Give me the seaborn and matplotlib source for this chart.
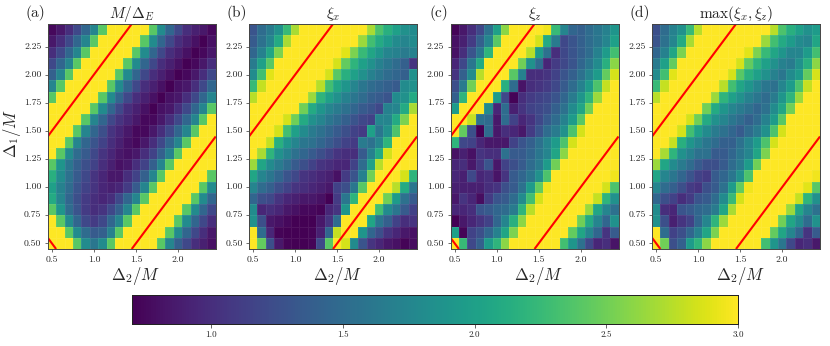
import numpy as np
import pandas as pd
import matplotlib
matplotlib.use('Agg')
import matplotlib.pyplot as plt
import seaborn as sns

# grid of the scan, rows listed from the top of the picture
delta2 = [0.5, 0.6, 0.7, 0.8, 0.9, 1.0, 1.1, 1.2, 1.3, 1.4, 1.5, 1.6, 1.7, 1.8, 1.9, 2.0, 2.1, 2.2, 2.3, 2.4]
delta1 = [2.4, 2.3, 2.2, 2.1, 2.0, 1.9, 1.8, 1.7, 1.6, 1.5, 1.4, 1.3, 1.2, 1.1, 1.0, 0.9, 0.8, 0.7, 0.6, 0.5]

x_ticks = [0.5, 1.0, 1.5, 2.0]
y_ticks = [0.50, 0.75, 1.00, 1.25, 1.50, 1.75, 2.00, 2.25]
cbar_ticks = [1.0, 1.5, 2.0, 2.5, 3.0]

titles = [r'$M/\Delta_E$', r'$\xi_x$', r'$\xi_z$', r'$\max(\xi_x,\xi_z)$']
panel_labels = ['(a)', '(b)', '(c)', '(d)']

m_gap = [
    [.75, .85, 1.0, 1.2, 1.45, 1.75, 2.4, 3, 3, 3, 3, 3, 2.4, 1.8, 1.45, 1.2, 1.0, .9, .85, .75],
    [.85, 1.0, 1.2, 1.45, 1.75, 2.4, 3, 3, 3, 3, 3, 2.4, 1.8, 1.45, 1.2, 1.0, .9, .8, .7, .8],
    [1.0, 1.2, 1.45, 1.75, 2.4, 3, 3, 3, 3, 3, 2.4, 1.8, 1.45, 1.2, 1.0, .9, .8, .7, .75, .85],
    [1.2, 1.45, 1.75, 2.4, 3, 3, 3, 3, 3, 2.4, 1.8, 1.45, 1.2, 1.0, .9, .8, .7, .75, .85, 1.0],
    [1.4, 1.75, 2.4, 3, 3, 3, 3, 3, 2.4, 1.8, 1.45, 1.2, 1.0, .9, .8, .7, .75, .85, 1.0, 1.2],
    [1.75, 2.4, 3, 3, 3, 3, 3, 2.4, 1.8, 1.45, 1.2, 1.0, .9, .8, .7, .8, .85, 1.0, 1.2, 1.45],
    [2.4, 3, 3, 3, 3, 3, 2.4, 1.8, 1.45, 1.2, 1.0, .9, .8, .7, .8, .85, 1.0, 1.2, 1.45, 1.75],
    [3, 3, 3, 3, 3, 2.4, 1.8, 1.45, 1.2, 1.0, .9, .8, .7, .8, .85, 1.0, 1.2, 1.45, 1.75, 2.4],
    [3, 3, 3, 3, 2.4, 1.75, 1.45, 1.2, 1.05, .95, .85, .75, .75, .85, 1.0, 1.2, 1.45, 1.75, 2.4, 3],
    [3, 3, 3, 2.4, 1.75, 1.45, 1.25, 1.05, .95, .85, .75, .75, .85, 1.0, 1.2, 1.45, 1.75, 2.4, 3, 3],
    [3, 3, 2.4, 1.75, 1.45, 1.3, 1.15, 1.0, .9, .8, .75, .85, 1.0, 1.2, 1.45, 1.75, 2.4, 3, 3, 3],
    [3, 2.4, 1.8, 1.5, 1.35, 1.2, 1.05, .95, .85, .8, .85, 1.0, 1.15, 1.4, 1.7, 2.4, 3, 3, 3, 3],
    [2.4, 1.9, 1.6, 1.4, 1.25, 1.15, 1.0, .9, .8, .85, 1.0, 1.15, 1.4, 1.75, 2.4, 3, 3, 3, 3, 3],
    [2.15, 1.8, 1.55, 1.35, 1.2, 1.05, .95, .85, .85, 1.0, 1.15, 1.4, 1.75, 2.4, 3, 3, 3, 3, 3, 2.4],
    [2.0, 1.7, 1.5, 1.3, 1.15, 1.05, .95, .9, .95, 1.1, 1.35, 1.75, 2.4, 3, 3, 3, 3, 3, 2.4, 1.8],
    [2.1, 1.75, 1.45, 1.25, 1.1, 1.0, .95, 1.0, 1.2, 1.45, 1.75, 2.4, 3, 3, 3, 3, 3, 2.4, 1.8, 1.45],
    [2.4, 1.9, 1.5, 1.3, 1.1, 1.0, 1.05, 1.2, 1.4, 1.75, 2.4, 3, 3, 3, 3, 3, 2.4, 1.8, 1.45, 1.2],
    [3, 2.4, 1.8, 1.45, 1.2, 1.1, 1.2, 1.45, 1.75, 2.4, 3, 3, 3, 3, 3, 2.4, 1.8, 1.45, 1.2, 1.0],
    [3, 3, 2.4, 1.8, 1.5, 1.35, 1.4, 1.7, 2.4, 3, 3, 3, 3, 3, 2.4, 1.8, 1.45, 1.2, 1.0, .85],
    [3, 3, 3, 2.4, 1.8, 1.6, 1.8, 2.4, 3, 3, 3, 3, 3, 2.4, 1.75, 1.4, 1.2, 1.0, .9, .8],
]

xi_x = [
    [1.3, 1.5, 1.65, 1.85, 2.25, 2.7, 3, 3, 3, 3, 3, 3, 3, 3, 2.7, 2.35, 2.15, 2.0, 1.85, 1.8],
    [1.35, 1.55, 1.75, 2.1, 2.7, 3, 3, 3, 3, 3, 3, 3, 3, 2.65, 2.3, 2.1, 1.95, 1.8, 1.75, 1.8],
    [1.45, 1.7, 2.05, 2.55, 3, 3, 3, 3, 3, 3, 3, 2.9, 2.55, 2.25, 2.05, 1.9, 1.75, 1.7, 1.65, 1.7],
    [1.65, 2.0, 2.4, 3, 3, 3, 3, 3, 3, 3, 2.85, 2.45, 2.2, 2.0, 1.85, 1.7, 1.6, 1.5, 1.4, 1.05],
    [1.8, 2.3, 2.9, 3, 3, 3, 3, 3, 3, 2.85, 2.4, 2.15, 2.0, 1.85, 1.7, 1.6, 1.5, 1.45, 1.4, 1.85],
    [2.25, 2.8, 3, 3, 3, 3, 3, 3, 2.75, 2.3, 2.05, 1.9, 1.75, 1.6, 1.5, 1.45, 1.4, 1.35, 1.8, 1.85],
    [2.75, 3, 3, 3, 3, 3, 3, 2.65, 2.2, 2.0, 1.85, 1.7, 1.6, 1.5, 1.4, 1.35, 1.3, 1.8, 1.85, 2.1],
    [3, 3, 3, 3, 3, 3, 2.5, 2.1, 1.9, 1.75, 1.65, 1.55, 1.45, 1.35, 1.3, 1.2, 1.7, 1.75, 2.1, 2.7],
    [3, 3, 3, 3, 2.85, 2.5, 2.1, 1.85, 1.75, 1.6, 1.5, 1.4, 1.3, 1.2, 1.15, 1.75, 1.75, 2.1, 2.55, 3],
    [3, 3, 3, 2.85, 2.3, 2.0, 1.8, 1.65, 1.55, 1.45, 1.35, 1.25, 1.15, 1.1, 2.0, 1.6, 1.85, 2.35, 3, 3],
    [3, 3, 2.8, 2.15, 1.9, 1.75, 1.6, 1.55, 1.45, 1.35, 1.25, 1.15, 1.1, 1.65, 1.55, 1.75, 2.2, 3, 3, 3],
    [3, 2.7, 2.2, 1.85, 1.7, 1.55, 1.45, 1.35, 1.25, 1.15, 1.05, 1.0, 1.0, 1.35, 1.7, 2.1, 2.85, 3, 3, 3],
    [2.65, 2.05, 1.8, 1.65, 1.5, 1.35, 1.25, 1.15, 1.05, 1.0, .95, .95, 1.15, 1.5, 2.0, 2.75, 3, 3, 3, 3],
    [2.05, 1.75, 1.6, 1.45, 1.3, 1.2, 1.05, 1.0, .95, .9, .8, 1.1, 1.3, 1.7, 2.5, 3, 3, 3, 2.85, 2.2],
    [1.75, 1.5, 1.4, 1.25, 1.15, 1.05, 1.0, .95, .9, .85, 1.15, 1.25, 1.6, 2.4, 3, 3, 3, 2.75, 2.1, 1.6],
    [1.45, 1.25, 1.2, 1.05, .95, .9, .85, .85, .8, .7, 1.1, 1.6, 2.2, 3, 3, 3, 2.5, 1.95, 1.55, 1.35],
    [1.8, .95, 1.0, .95, .85, .8, .75, .75, .72, .95, 1.05, 1.9, 3, 3, 3, 2.3, 1.8, 1.6, 1.35, 1.15],
    [1.85, 1.25, .85, .8, .75, .7, .7, .7, .85, 1.05, 1.5, 3, 3, 3, 2.05, 1.6, 1.4, 1.15, 1.0, 1.05],
    [3, 1.5, .95, .72, .7, .7, .7, .72, .9, 1.45, 2.8, 3, 3, 1.9, 1.45, 1.25, 1.05, .95, .85, .8],
    [3, 2.45, 1.25, .85, .72, .7, .7, .72, 1.2, 2.4, 3, 2.85, 1.8, 1.3, 1.05, .95, .85, .8, .72, .78],
]

xi_z = [
    [.72, .85, 1.0, 1.2, 1.55, 2.0, 2.6, 3, 3, 3, 3, 2.95, 2.25, 1.75, 1.45, 1.4, 1.5, 1.6, 1.7, 1.9],
    [.8, .9, 1.1, 1.4, 1.75, 2.4, 3, 3, 3, 3, 2.85, 2.1, 1.65, 1.2, 1.3, 1.4, 1.5, 1.6, 1.75, 2.0],
    [.8, 1.0, 1.3, 1.6, 2.2, 3, 3, 3, 3, 2.75, 1.95, 1.55, 1.0, 1.2, 1.3, 1.4, 1.5, 1.7, 1.95, 2.3],
    [.95, 1.2, 1.6, 2.1, 3, 3, 3, 3, 2.5, 1.85, 1.5, .95, 1.1, 1.2, 1.3, 1.45, 1.6, 1.8, 2.15, 2.6],
    [1.05, 1.4, 1.8, 2.75, 3, 3, 3, 2.4, 1.7, 1.0, 1.0, 1.05, 1.15, 1.3, 1.4, 1.55, 1.75, 1.95, 2.45, 2.85],
    [1.25, 1.65, 2.5, 3, 3, 3, 2.15, 1.5, .82, 1.0, 1.05, 1.1, 1.2, 1.35, 1.5, 1.7, 1.95, 2.35, 2.8, 3],
    [1.4, 2.2, 3, 3, 3, 1.95, 1.2, .72, 1.0, 1.1, 1.15, 1.2, 1.3, 1.45, 1.65, 1.9, 2.2, 2.65, 3, 3],
    [1.95, 3, 3, 3, 1.8, .95, 1.5, .9, 1.05, 1.15, 1.2, 1.25, 1.4, 1.55, 1.8, 2.05, 2.5, 3, 3, 3],
    [3, 3, 2.8, 1.55, 1.5, .85, 1.5, 1.15, .95, 1.05, 1.2, 1.35, 1.5, 1.7, 1.95, 2.4, 3, 3, 3, 3],
    [3, 2.45, 1.25, .7, 1.5, .85, 1.0, .95, .85, 1.1, 1.3, 1.5, 1.65, 1.85, 2.35, 2.85, 3, 3, 3, 3],
    [2.2, 1.2, 1.15, .95, .85, .85, .85, 1.15, 1.3, 1.4, 1.55, 1.75, 1.95, 2.35, 2.85, 3, 3, 3, 3, 3],
    [.8, .9, .8, 1.05, 1.0, 1.0, 1.55, 1.35, 1.35, 1.45, 1.6, 1.75, 2.05, 2.6, 3, 3, 3, 3, 3, 3],
    [.95, 1.0, .85, 1.05, 1.3, .85, 1.15, 1.25, 1.35, 1.5, 1.65, 1.95, 2.5, 3, 3, 3, 3, 3, 3, 3],
    [.95, .9, 1.2, .95, 1.0, .82, 1.05, 1.35, 1.45, 1.6, 1.85, 2.35, 3, 3, 3, 3, 3, 3, 3, 2.95],
    [.9, .9, .9, .9, 1.0, 1.05, 1.25, 1.35, 1.55, 1.95, 2.45, 2.95, 3, 3, 3, 3, 3, 3, 2.85, 2.35],
    [.85, 1.05, .95, .78, 1.1, 1.3, 1.35, 1.5, 1.8, 2.3, 2.85, 3, 3, 3, 3, 3, 3, 2.8, 2.2, 1.85],
    [.95, .95, 1.0, 1.3, 1.35, 1.45, 1.5, 1.65, 2.2, 2.75, 3, 3, 3, 3, 3, 3, 2.65, 2.05, 1.75, 1.55],
    [.7, .85, .95, 1.05, 1.15, 1.45, 1.75, 2.15, 2.6, 3, 3, 3, 3, 3, 3, 2.5, 2.1, 1.75, 1.45, 1.85],
    [2.0, .72, 1.15, 1.25, 1.45, 1.7, 2.05, 2.55, 3, 3, 3, 3, 3, 3, 2.45, 2.05, 1.75, 1.45, 1.05, 1.35],
    [3, 2.25, 1.2, 1.4, 1.95, 2.2, 2.6, 3, 3, 3, 3, 3, 3, 2.3, 1.9, 1.55, 1.2, .95, 1.0, .82],
]

xi_max = [
    [1.25, 1.5, 1.7, 1.85, 2.25, 2.75, 3, 3, 3, 3, 3, 3, 3, 3, 2.75, 2.35, 2.15, 2.0, 1.85, 1.95],
    [1.3, 1.55, 1.75, 2.1, 2.7, 3, 3, 3, 3, 3, 3, 3, 3, 2.65, 2.3, 2.1, 1.95, 1.8, 1.75, 2.05],
    [1.45, 1.7, 2.05, 2.55, 3, 3, 3, 3, 3, 3, 3, 2.9, 2.55, 2.25, 2.05, 1.9, 1.75, 1.75, 1.95, 2.3],
    [1.65, 2.0, 2.45, 3, 3, 3, 3, 3, 3, 3, 2.85, 2.45, 2.2, 2.0, 1.85, 1.7, 1.65, 1.85, 2.15, 2.6],
    [1.8, 2.3, 2.9, 3, 3, 3, 3, 3, 3, 2.85, 2.4, 2.15, 2.0, 1.85, 1.7, 1.6, 1.8, 1.95, 2.45, 2.85],
    [2.25, 2.8, 3, 3, 3, 3, 3, 3, 2.75, 2.3, 2.05, 1.9, 1.75, 1.6, 1.55, 1.75, 1.95, 2.35, 2.8, 3],
    [2.75, 3, 3, 3, 3, 3, 3, 2.65, 2.2, 2.0, 1.85, 1.7, 1.6, 1.5, 1.65, 1.9, 2.2, 2.65, 3, 3],
    [3, 3, 3, 3, 3, 3, 2.5, 2.1, 1.9, 1.75, 1.65, 1.55, 1.45, 1.55, 1.8, 2.05, 2.5, 3, 3, 3],
    [3, 3, 3, 3, 2.85, 2.5, 2.1, 1.85, 1.75, 1.6, 1.5, 1.4, 1.5, 1.7, 1.95, 2.4, 3, 3, 3, 3],
    [3, 3, 3, 2.85, 2.3, 2.0, 1.8, 1.65, 1.55, 1.45, 1.35, 1.5, 1.65, 1.85, 2.35, 2.85, 3, 3, 3, 3],
    [3, 3, 2.8, 2.15, 1.9, 1.75, 1.6, 1.5, 1.4, 1.4, 1.55, 1.75, 1.95, 2.35, 2.85, 3, 3, 3, 3, 3],
    [3, 2.7, 2.2, 1.85, 1.7, 1.55, 1.55, 1.35, 1.35, 1.45, 1.6, 1.75, 2.05, 2.55, 3, 3, 3, 3, 3, 3],
    [2.65, 2.05, 1.8, 1.65, 1.5, 1.35, 1.25, 1.25, 1.35, 1.5, 1.65, 1.95, 2.5, 3, 3, 3, 3, 3, 3, 3],
    [2.05, 1.75, 1.6, 1.45, 1.3, 1.15, 1.1, 1.35, 1.45, 1.6, 1.85, 2.35, 3, 3, 3, 3, 3, 3, 3, 2.95],
    [1.75, 1.5, 1.4, 1.25, 1.1, 1.05, 1.25, 1.35, 1.55, 1.95, 2.45, 2.95, 3, 3, 3, 3, 3, 3, 2.9, 2.4],
    [1.45, 1.25, 1.15, 1.0, 1.1, 1.3, 1.35, 1.5, 1.8, 2.25, 2.85, 3, 3, 3, 3, 3, 3, 2.8, 2.2, 1.85],
    [1.8, 1.0, .95, 1.3, 1.35, 1.45, 1.5, 1.65, 2.05, 2.7, 3, 3, 3, 3, 3, 3, 2.65, 2.05, 1.75, 1.55],
    [1.85, 1.25, .9, 1.05, 1.15, 1.45, 1.75, 2.2, 2.65, 3, 3, 3, 3, 3, 3, 2.5, 2.05, 1.8, 1.5, 1.85],
    [3, 1.5, 1.15, 1.25, 1.45, 1.7, 2.05, 2.55, 3, 3, 3, 3, 3, 3, 2.45, 2.05, 1.75, 1.45, 1.05, 1.35],
    [3, 2.5, 1.25, 1.4, 1.95, 2.2, 2.6, 3, 3, 3, 3, 3, 3, 2.3, 1.9, 1.6, 1.2, .95, 1.0, .85],
]

# red lines, in Delta_2 / Delta_1 units
line_upper = ([0.45, 1.45], [1.45, 2.45])
line_lower = ([1.45, 2.45], [0.45, 1.45])
line_corner = ([0.45, 0.55], [0.55, 0.45])

sns.set_style('white')
plt.rcParams['font.family'] = ['cmr10', 'DejaVu Serif']
plt.rcParams['mathtext.fontset'] = 'cm'
plt.rcParams['axes.unicode_minus'] = False
plt.rcParams['axes.formatter.use_mathtext'] = True

W, H = 830, 346
fig = plt.figure(figsize=(W / 100, H / 100), dpi=100)

# axes edges in pixels
lefts = [47.7, 249, 450.5, 652]
top, bottom, width = 24, 249, 168


def to_x(v):
    return (np.asarray(v) - 0.45) / 0.1


def to_y(v):
    return (2.45 - np.asarray(v)) / 0.1


cax = fig.add_axes([132 / W, 1 - 324 / H, 606 / W, 29 / H])
all_data = [m_gap, xi_x, xi_z, xi_max]

for i, data in enumerate(all_data):
    ax = fig.add_axes([lefts[i] / W, 1 - bottom / H, width / W, (bottom - top) / H])
    df = pd.DataFrame(data, index=delta1, columns=delta2)
    sns.heatmap(df, ax=ax, vmin=0.7, vmax=3.0, cmap='viridis', square=False,
                cbar=(i == 0), cbar_ax=cax if i == 0 else None,
                cbar_kws={'orientation': 'horizontal', 'ticks': cbar_ticks})
    # faint seams between the cells
    ax.collections[0].set_edgecolor((1, 1, 1, 0.07))
    ax.collections[0].set_linewidth(0.4)

    for xs, ys in [line_upper, line_lower, line_corner]:
        if i == 1 and xs == line_corner[0]:
            continue
        ax.plot(to_x(xs), to_y(ys), color='red', lw=1.5, solid_capstyle='butt')
    ax.set_xlim(0, 20)
    ax.set_ylim(20, 0)

    ax.set_xticks(to_x(x_ticks))
    ax.set_xticklabels([f'{t:.1f}' for t in x_ticks], rotation=0, fontsize=7)
    ax.set_yticks(to_y(y_ticks))
    ax.set_yticklabels([f'{t:.2f}' for t in y_ticks], rotation=0, fontsize=7)
    ax.tick_params(axis='both', length=2.5, width=0.5, bottom=True, left=True, pad=2, color='#333333')

    for s in ax.spines.values():
        s.set_visible(True)
        s.set_linewidth(0.7)
        s.set_color('#444444')

    ax.set_title(titles[i], fontsize=11, pad=4)
    ax.set_xlabel(r'$\Delta_2/M$', fontsize=12, labelpad=1, x=0.525)
    if i == 0:
        ax.set_ylabel(r'$\Delta_1/M$', fontsize=12, labelpad=1, y=0.515)
    else:
        ax.set_ylabel('')
    ax.text(-0.012, 1.015, panel_labels[i], transform=ax.transAxes, ha='right', va='bottom', fontsize=11)

cax.tick_params(axis='x', length=3, width=0.5, labelsize=6.5, pad=2, bottom=True)
cax.set_xticklabels([f'{t:.1f}' for t in cbar_ticks])
for s in cax.spines.values():
    s.set_visible(True)
    s.set_linewidth(0.7)
    s.set_color('#222222')

plt.savefig('out.png', dpi=100)
plt.close()
